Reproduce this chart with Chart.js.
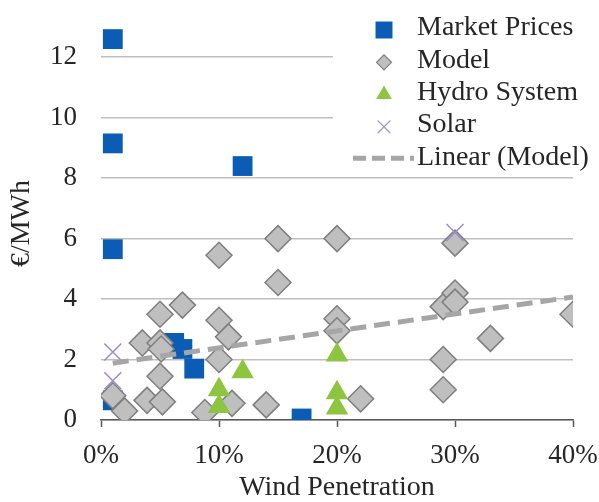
<!DOCTYPE html>
<html lang="en">
<head>
    <meta charset="UTF-8">
    <title>Wind Penetration vs €/MWh</title>
    <script src="https://cdn.jsdelivr.net/npm/chart.js"></script>
    <style>
        html, body { margin: 0; padding: 0; background: #fff; }
        #wrap { width: 599px; height: 502px; }
    </style>
</head>
<body>
    <div id="wrap"><canvas id="chart" width="599" height="502"></canvas></div>
    <script>
        // Values (x = wind penetration in %, y = €/MWh)
        const marketX = [1, 1, 12, 1, 1, 6.2, 6.9, 7.9, 17];
        const marketY = [12.6, 9.15, 8.4, 5.65, 0.65, 2.55, 2.35, 1.7, 0.05];

        const modelX = [1, 2, 3.5, 3.9, 5, 5, 5.1, 5, 5.2, 6.9, 8.8, 10, 10, 10.8, 10, 11.1,
                        14, 15, 15, 20, 20, 20, 22, 29, 30, 30, 30, 33, 29, 29, 40];
        const modelY = [0.8, 0.3, 2.55, 0.65, 3.5, 2.55, 2.35, 1.45, 0.6, 3.8, 0.25, 5.45, 3.3, 2.75, 2.0, 0.55,
                        0.5, 6.0, 4.55, 6.0, 3.35, 2.95, 0.7, 3.75, 4.2, 3.9, 5.85, 2.7, 2.0, 1.0, 3.5];

        const hydroX = [10, 10, 12, 20, 20, 20];
        const hydroY = [1.0, 0.45, 1.6, 2.15, 0.9, 0.4];

        const solarX = [1, 1, 30];
        const solarY = [2.25, 1.3, 6.2];

        // trendline end points as drawn
        const trendX = [1, 40];
        const trendY = [1.88, 4.07];

        const xTicks = [0, 10, 20, 30, 40];

        function pts(xs, ys) {
            return xs.map((x, i) => ({ x: x, y: ys[i] }));
        }

        const serif = "'Liberation Serif', 'Times New Roman', serif";
        const textColor = "#262626";

        const legendItems = [
            { label: "Market Prices", style: "rect", r: 12, fill: "#0B5CB5", stroke: "#0B5CB5", bw: 0 },
            { label: "Model", style: "rectRot", r: 7.5, fill: "#BFBFBF", stroke: "#7F7F7F", bw: 1.2 },
            { label: "Hydro System", style: "triangle", r: 9, fill: "#8DC540", stroke: "#8DC540", bw: 0 },
            { label: "Solar", style: "crossRot", r: 9, fill: "#A897D4", stroke: "#A897D4", bw: 1.2 },
            { label: "Linear (Model)", line: true }
        ];

        // Excel-like legend sitting on top of the plot with a white box
        const legendPlugin = {
            id: "boxLegend",
            afterDraw(chart) {
                const ctx = chart.ctx;
                ctx.save();
                ctx.fillStyle = "#fff";
                ctx.fillRect(333, 0, 266, 172);
                ctx.font = "28px " + serif;
                ctx.textBaseline = "middle";
                ctx.textAlign = "left";
                legendItems.forEach((it, i) => {
                    const y = 28 + i * 32.3;
                    if (it.line) {
                        ctx.strokeStyle = "#A6A6A6";
                        ctx.lineWidth = 5;
                        ctx.setLineDash([13, 6]);
                        ctx.beginPath();
                        ctx.moveTo(353, y + 1);
                        ctx.lineTo(414, y + 1);
                        ctx.stroke();
                        ctx.setLineDash([]);
                    } else {
                        ctx.fillStyle = it.fill;
                        ctx.strokeStyle = it.stroke;
                        ctx.lineWidth = it.bw || 1;
                        Chart.helpers.drawPoint(ctx, {
                            pointStyle: it.style, radius: it.r, rotation: 0, borderWidth: it.bw
                        }, 384, y + 2);
                    }
                    ctx.fillStyle = textColor;
                    ctx.fillText(it.label, 417, y);
                });
                ctx.restore();
            }
        };

        new Chart(document.getElementById("chart"), {
            type: "scatter",
            data: {
                datasets: [
                    {
                        label: "Market Prices",
                        data: pts(marketX, marketY),
                        pointStyle: "rect",
                        pointRadius: 14,
                        backgroundColor: "#0B5CB5",
                        borderColor: "#0B5CB5",
                        borderWidth: 0,
                        order: 5
                    },
                    {
                        label: "Model",
                        data: pts(modelX, modelY),
                        pointStyle: "rectRot",
                        pointRadius: 13,
                        backgroundColor: "#BFBFBF",
                        borderColor: "#7F7F7F",
                        borderWidth: 1.5,
                        order: 4
                    },
                    {
                        label: "Hydro System",
                        data: pts(hydroX, hydroY),
                        pointStyle: "triangle",
                        pointRadius: 13,
                        backgroundColor: "#8DC540",
                        borderColor: "#8DC540",
                        borderWidth: 0,
                        order: 3
                    },
                    {
                        label: "Solar",
                        data: pts(solarX, solarY),
                        pointStyle: "crossRot",
                        pointRadius: 12,
                        backgroundColor: "#9F8BCB",
                        borderColor: "#9F8BCB",
                        borderWidth: 1.5,
                        order: 2
                    },
                    {
                        label: "Linear (Model)",
                        type: "line",
                        data: pts(trendX, trendY),
                        showLine: true,
                        borderColor: "#A6A6A6",
                        borderWidth: 5,
                        borderDash: [16, 8],
                        pointRadius: 0,
                        fill: false,
                        order: 1
                    }
                ]
            },
            options: {
                responsive: false,
                animation: false,
                layout: { padding: { top: 27, right: 26, left: 0, bottom: 0 } },
                plugins: {
                    legend: { display: false },
                    tooltip: { enabled: false }
                },
                scales: {
                    x: {
                        type: "linear",
                        min: 0,
                        max: 40,
                        afterBuildTicks: s => { s.ticks = xTicks.map(v => ({ value: v })); },
                        afterFit: s => { s.height = 82; s.paddingLeft = 0; s.paddingRight = 0; },
                        grid: {
                            drawOnChartArea: false,
                            drawTicks: true,
                            tickLength: 7,
                            tickColor: "#595959",
                            tickWidth: 1.5
                        },
                        border: { display: true, color: "#595959", width: 1.5 },
                        ticks: {
                            padding: 13,
                            color: textColor,
                            font: { family: serif, size: 27 },
                            maxRotation: 0,
                            callback: v => v + "%"
                        },
                        title: {
                            display: true,
                            text: "Wind Penetration",
                            color: textColor,
                            font: { family: serif, size: 28, lineHeight: 1 },
                            padding: { top: 0, bottom: 0 }
                        }
                    },
                    y: {
                        min: 0,
                        max: 13,
                        afterFit: s => { s.width = 101; s.paddingTop = 0; s.paddingBottom = 0; },
                        grid: {
                            color: "#BFBFBF",
                            lineWidth: 1.5,
                            drawTicks: false
                        },
                        border: { display: false },
                        ticks: {
                            stepSize: 2,
                            includeBounds: false,
                            padding: 24,
                            color: textColor,
                            font: { family: serif, size: 27 }
                        },
                        title: {
                            display: true,
                            text: "€/MWh",
                            color: textColor,
                            font: { family: serif, size: 28, lineHeight: 1.2 },
                            padding: { top: 5, bottom: 0 }
                        }
                    }
                }
            },
            plugins: [legendPlugin]
        });
    </script>
</body>
</html>
